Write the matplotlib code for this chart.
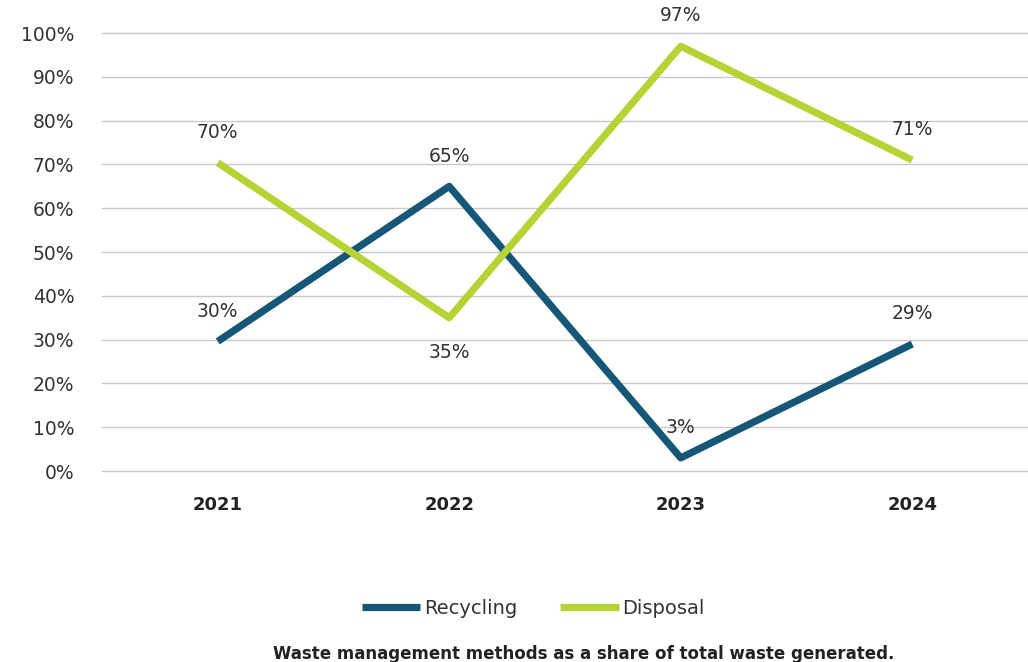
import matplotlib.pyplot as plt
import numpy as np

years = ['2021', '2022', '2023', '2024']
recycling = [29.6, 65, 3, 29]
disposal = [70.4, 35, 97, 71]
# label offset direction per point (1 = above, -1 = below)
rec_pos = [1, 1, 1, 1]
dis_pos = [1, -1, 1, 1]

plt.rcParams['font.family'] = ['DejaVu Sans']

fig = plt.figure(figsize=(10.28, 6.62), dpi=100)
ax = fig.add_axes([0.0992, 0.2885, 0.9008, 0.6615])

x = np.arange(len(years))
blue = '#165778'
green = '#B5D335'
ax.plot(x, recycling, color=blue, lw=5.2, solid_capstyle='butt', label='Recycling', zorder=3)
ax.plot(x, disposal, color=green, lw=5.2, solid_capstyle='butt', label='Disposal', zorder=3)

def label_points(vals, pos):
    for xi, v, p in zip(x, vals, pos):
        ax.annotate(f'{v:.0f}%', (xi, v), xytext=(0, 15 if p > 0 else -18),
                    textcoords='offset points', ha='center',
                    va='bottom' if p > 0 else 'top', fontsize=13.5, color='#333333')

label_points(recycling, rec_pos)
label_points(disposal, dis_pos)

ax.set_xlim(-0.5, 3.5)
ax.set_ylim(0, 100)
ax.set_yticks(np.arange(0, 101, 10))
ax.set_yticklabels([f'{t}%' for t in range(0, 101, 10)])
ax.set_xticks(x)
ax.set_xticklabels(years, fontweight='bold')
ax.tick_params(axis='y', length=0, labelsize=13.5, labelcolor='#333333', pad=20)
ax.tick_params(axis='x', length=0, labelsize=13, labelcolor='#222222', pad=18)
ax.grid(axis='y', color='#C8C8C8', lw=1)
for gl in ax.get_ygridlines():
    gl.set_clip_on(False)
ax.set_axisbelow(True)
for s in ax.spines.values():
    s.set_visible(False)

fig.legend(loc='center', bbox_to_anchor=(0.519, 0.081), ncol=2, frameon=False,
           fontsize=14, handlelength=3.0, handletextpad=0.2, columnspacing=2.2,
           labelcolor='#333333')
fig.text(0.568, 0.012, 'Waste management methods as a share of total waste generated.',
         ha='center', va='center', fontsize=12, fontweight='bold', color='#222222')

fig.savefig('out.png', dpi=100)
